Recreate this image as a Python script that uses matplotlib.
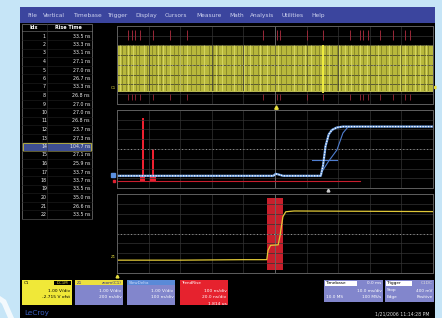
import matplotlib
matplotlib.use("Agg")
import matplotlib.pyplot as plt
from matplotlib.patches import Rectangle, Polygon

W, H = 442, 318

MENU_ITEMS = ["File", "Vertical", "Timebase", "Trigger", "Display", "Cursors",
              "Measure", "Math", "Analysis", "Utilities", "Help"]
MENU_X = [27, 43, 73, 107, 135, 165, 196, 229, 250, 281, 311]

# measurement table
rise_idx = list(range(1, 23))
rise_time_ns = [33.5, 33.3, 33.1, 27.1, 27.0, 26.7, 33.3, 26.8, 27.0, 27.0, 26.8,
                23.7, 27.3, 104.7, 27.1, 25.9, 33.7, 33.7, 33.5, 35.0, 26.6, 33.5]
highlight_idx = 14

# top trace: C1 pulse burst (divisions)
c1_low, c1_high = 1.3, 6.1
c1_dark_edges = [0.15, 0.3, 0.42, 0.6, 0.71, 0.95, 1.1, 1.22, 1.4, 1.55, 1.8, 1.92,
                 2.1, 2.35, 2.5, 2.62, 2.9, 3.05, 3.2, 3.45, 3.6, 3.8, 3.92, 4.1,
                 4.3, 4.45, 4.6, 4.85, 5.0, 5.2, 5.35, 5.5, 5.7, 5.85, 6.0, 6.25,
                 6.4, 6.6, 6.8, 6.95, 7.1, 7.3, 7.5, 7.62, 7.8, 8.0, 8.15, 8.35,
                 8.5, 8.7, 8.85, 9.0, 9.2, 9.35, 9.5, 9.7, 9.85]
c1_bright_edges = [0.08, 0.36, 0.52, 0.84, 1.3, 1.47, 1.68, 2.0, 2.22, 2.75, 3.12,
                   3.33, 3.7, 4.02, 4.2, 4.52, 4.75, 5.1, 5.6, 5.95, 6.15, 6.7,
                   7.02, 7.2, 7.42, 7.7, 7.9, 8.25, 8.6, 8.95, 9.1, 9.42, 9.6, 9.78]
c1_trigger_edge = 6.52
c1_marks = [0.35, 0.47, 0.57, 0.73, 1.14, 1.68, 2.22, 4.62, 5.06, 5.16, 6.01,
            6.52, 7.37, 7.69, 7.78, 7.94, 8.32, 8.73, 9.11, 9.27]

# middle: zoom of the slow edge plus rise-time histogram
z1_t = [0, 4.95, 5.02, 5.1, 5.25, 6.45, 6.52, 6.6, 6.7, 6.8, 6.95, 7.15, 10]
z1_v = [1.25, 1.25, 1.45, 1.4, 1.25, 1.25, 2.3, 4.3, 5.5, 5.95, 6.2, 6.3, 6.3]
z1b_t = [6.52, 6.68, 6.96, 7.15, 7.31, 7.6]
z1b_v = [1.85, 2.67, 3.9, 5.64, 6.26, 6.3]
ref_t = [6.17, 6.96]
ref_v = [2.87, 2.87]
hist_x = [0.82, 1.14]
hist_h = [7.2, 4.0]
hist_base = 0.72
hist_line_end = 7.7

# bottom: C1 edge under measurement
c1z_t = [0, 2.0, 4.0, 4.74, 4.78, 4.86, 5.1, 5.16, 5.25, 5.34, 5.6, 10]
c1z_v = [1.3, 1.3, 1.35, 1.35, 2.3, 2.8, 2.85, 3.8, 5.7, 6.2, 6.28, 6.22]
gate = (4.74, 5.26)

BG = "#c6e5f7"
MENU = "#3b459e"
LAV = "#8286cc"


def px_axes(fig, x0, y0, x1, y1, z=1):
    return fig.add_axes([x0 / W, 1 - y1 / H, (x1 - x0) / W, (y1 - y0) / H], zorder=z)


def scope_panel(fig, y0, y1):
    ax = px_axes(fig, 117, y0, 433, y1, z=2)
    ax.set_facecolor("black")
    ax.set_xlim(0, 10)
    ax.set_ylim(0, 8)
    ax.set_xticks(range(11))
    ax.set_yticks(range(9))
    ax.grid(True, color="#333333", lw=0.5)
    ax.tick_params(length=0, labelbottom=False, labelleft=False)
    for s in ax.spines.values():
        s.set_color("#5e5e5e")
        s.set_linewidth(0.7)
    ax.axvline(5, color="#6e6e6e", lw=0.6)
    ax.axhline(4, color="#9a9a9a", lw=0.7, ls=(0, (1, 2.5)))
    return ax


def main():
    plt.rcParams["font.family"] = "DejaVu Sans"
    fig = plt.figure(figsize=(W / 100, H / 100), dpi=100)
    fig.patch.set_facecolor(BG)

    ui = px_axes(fig, 0, 0, W, H, z=0)
    ui.set_xlim(0, W)
    ui.set_ylim(H, 0)
    ui.axis("off")

    # bezel swoosh and screen
    ui.add_patch(Polygon([(0, 296), (6, 300), (14, 318), (8, 318), (2, 304), (0, 302)],
                         color="white", alpha=0.8, lw=0))
    ui.add_patch(Rectangle((20, 7), 415, 311, color="black", lw=0))
    ui.add_patch(Rectangle((20, 7), 415, 16, color=MENU, lw=0))
    for name, x in zip(MENU_ITEMS, MENU_X):
        ui.text(x, 15.5, name, color="#cdd2ee", fontsize=4.2, va="center")

    # table
    ui.add_patch(Rectangle((22, 24), 70, 195, fill=False, ec="#7a7a7a", lw=0.5))
    ui.plot([22, 92], [31, 31], color="#7a7a7a", lw=0.4)
    ui.plot([47, 47], [24, 219], color="#333333", lw=0.4)
    ui.text(34, 27.5, "Idx", color="white", fontsize=3.5, ha="center", va="center",
            fontweight="bold")
    ui.text(68, 27.5, "Rise Time", color="white", fontsize=3.5, ha="center",
            va="center", fontweight="bold")
    for i, v in zip(rise_idx, rise_time_ns):
        y = 27.5 + 8.5 * i
        if i == highlight_idx:
            ui.add_patch(Rectangle((23, y - 4), 68, 8, fc="#3e4f92", ec="#c8c040", lw=0.6))
        ui.plot([22, 92], [y + 4.2, y + 4.2], color="#222222", lw=0.4)
        ui.text(44, y, str(i), color="#eeeeee", fontsize=3.4, ha="center", va="center")
        ui.text(90, y, f"{v:.1f} ns", color="#eeeeee", fontsize=3.4, ha="right",
                va="center")

    # top panel: pulse burst
    ax1 = scope_panel(fig, 26, 104)
    ax1.fill_between([0, 10], c1_low, c1_high, color="#b8b83c", lw=0)
    ax1.vlines(c1_dark_edges, c1_low, c1_high, color="#7a7a22", lw=0.5)
    ax1.vlines(c1_bright_edges, c1_low, c1_high, color="#e2e270", lw=0.5)
    ax1.vlines([c1_trigger_edge], c1_low - 0.2, c1_high, color="#f6f240", lw=1.3)
    ax1.plot([0, 10], [c1_low, c1_low], color="#d8d860", lw=0.6)
    ax1.vlines(c1_marks, 6.6, 7.6, color="#9a2838", lw=0.7)
    ax1.vlines(c1_marks, 0.4, 1.0, color="#9a2838", lw=0.6)

    # middle panel: zoomed edge and histogram
    ax2 = scope_panel(fig, 110, 188)
    ax2.plot([0, hist_line_end], [hist_base, hist_base], color="#c81e2e", lw=0.8)
    ax2.bar(hist_x, [h - hist_base for h in hist_h], bottom=hist_base, width=0.07,
            color="#ee2030", lw=0)
    ax2.bar(hist_x, [0.6, 0.6], bottom=hist_base - 0.1, width=0.16, color="#ee2030", lw=0)
    ax2.plot(ref_t, ref_v, color="#4f7ed0", lw=0.8)
    ax2.plot(z1b_t, z1b_v, color="#4f7ed0", lw=0.8)
    ax2.plot(z1_t, z1_v, color="#6a9ce0", lw=1.6)
    ax2.plot(z1_t, z1_v, color="white", lw=0.9, ls=(0, (1, 1.2)))

    # bottom panel: C1 edge with gate
    ax3 = scope_panel(fig, 194, 273)
    ax3.axvspan(gate[0], gate[1], ymin=0.04, ymax=0.95, color="#c8202c", lw=0)
    ax3.plot(c1z_t, c1z_v, color="#e0c838", lw=0.9)

    # trace labels and markers
    ui.text(113, 88, "C1", color="#e8e040", fontsize=2.8, ha="center", va="center")
    ui.plot([434], [87], marker="<", color="#e8e040", ms=2)
    ui.plot([276], [107], marker="^", color="#e8e040", ms=2.5)
    ui.plot([328], [190], marker="^", color="#cccccc", ms=2)
    ui.plot([113], [175], marker="s", color="#5a90e0", ms=2.2)
    ui.plot([114], [181], marker="s", color="#e02030", ms=1.6)
    ui.text(113, 257, "Z1", color="#e8e040", fontsize=2.8, ha="center", va="center")
    ui.plot([117], [276], marker="^", color="#e8e040", ms=2)

    # channel descriptor boxes
    def box(x0, x1, body, head, head_txt, head_col, lines, tag=None, txt="white"):
        ui.add_patch(Rectangle((x0, 280), x1 - x0, 25, color=body, lw=0))
        ui.add_patch(Rectangle((x0, 280), x1 - x0, 5, color=head, lw=0))
        ui.text(x0 + 1.5, 282.7, head_txt[0], color=head_col, fontsize=3.0, va="center")
        if head_txt[1]:
            ui.text(x1 - 1.5, 282.7, head_txt[1], color=head_col, fontsize=3.0,
                    va="center", ha="right")
        if tag:
            ui.add_patch(Rectangle((x1 - 18, 280.8), 17, 4, color="black", lw=0))
            ui.text(x1 - 9.5, 282.8, tag, color=body, fontsize=2.8, ha="center",
                    va="center")
        for k, line in enumerate(lines):
            ui.text(x1 - 1.5, 291 + 6.5 * k, line, color=txt, fontsize=3.2, ha="right",
                    va="center")

    box(22, 72, "#f0e838", "#f0e838", ("C1", ""), "black",
        ["1.00 V/div", "-2.715 V ofst"], tag="DC1M", txt="black")
    box(75, 123, LAV, "#ece040", ("Z1", "zoom(C1)"), "#303080",
        ["1.00 V/div", "200 ns/div"])
    box(127, 175, LAV, "#5a8ad8", ("SlewDelta", ""), "#c8d8f8",
        ["1.00 V/div", "100 ns/div"])
    box(180, 228, "#e6222e", "#e6222e", ("TrendRise", ""), "white",
        ["100 ns/div", "20.0 ns/div", "1.814 us"])

    # timebase / trigger boxes
    for x0, x1, head, val, rows in [
        (324, 383, "Timebase", "0.0 ms", [("", "10.0 ms/div"), ("10.0 MS", "100 MS/s")]),
        (385, 434, "Trigger", "C1DC", [("Stop", "400 mV"), ("Edge", "Positive")]),
    ]:
        ui.add_patch(Rectangle((x0, 280), x1 - x0, 22, color=LAV, lw=0))
        ui.add_patch(Rectangle((x0 + 0.5, 280.5), (x1 - x0) * 0.55, 5, color="white", lw=0))
        ui.text(x0 + 2, 283, head, color="black", fontsize=3.1, va="center")
        ui.text(x1 - 1.5, 283, val, color="white" if head == "Timebase" else "#dddddd",
                fontsize=3.1, va="center", ha="right")
        for k, (a, b) in enumerate(rows):
            y = 290.5 + 6.5 * k
            ui.text(x0 + 1.5, y, a, color="white", fontsize=3.1, va="center")
            ui.text(x1 - 1.5, y, b, color="white", fontsize=3.1, va="center", ha="right")

    ui.text(24, 313, "LeCroy", color="#3a5fc0", fontsize=5.2, va="center")
    ui.text(429, 314, "1/21/2006 11:14:28 PM", color="#dddddd", fontsize=3.3,
            va="center", ha="right")

    fig.savefig("out.png", dpi=100, facecolor=BG)


if __name__ == "__main__":
    main()
